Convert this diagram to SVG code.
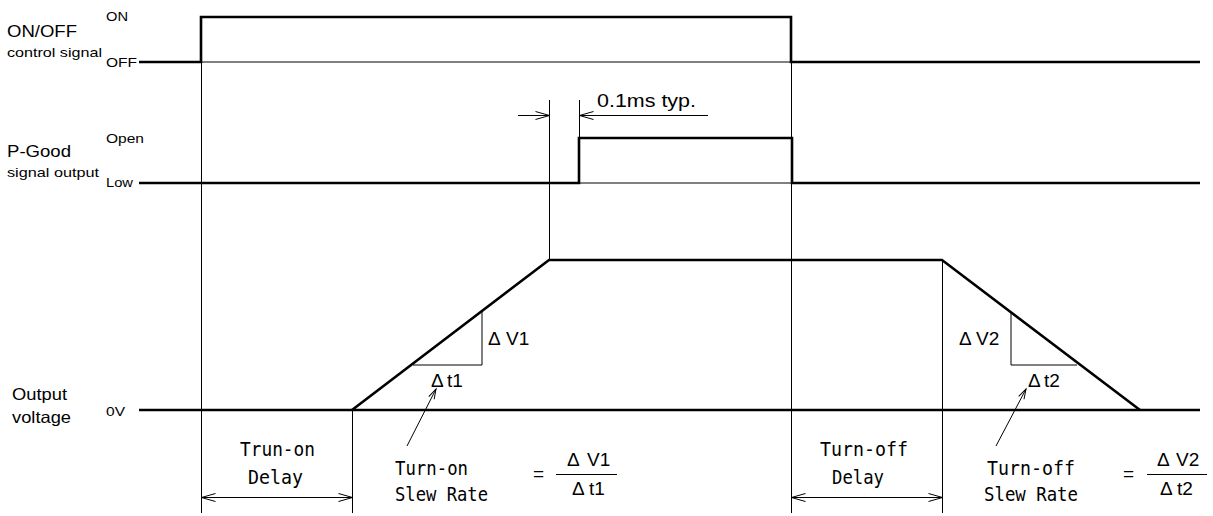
<svg xmlns="http://www.w3.org/2000/svg" width="1213" height="516" viewBox="0 0 1213 516">
<style>
.trace{fill:none;stroke:#000;stroke-width:2.6;stroke-linejoin:miter}
.thin{fill:none;stroke:#000;stroke-width:1}
.lbl{font-family:"Liberation Sans",Arial,sans-serif;fill:#000}
.mono{font-family:"DejaVu Sans Mono","Liberation Mono",monospace;fill:#000;font-size:19px}
.dl{font-family:"Liberation Sans",Arial,sans-serif;fill:#000;font-size:19px}
</style>
<defs>
<marker id="oa" viewBox="0 0 14 10" refX="14" refY="5" markerWidth="14" markerHeight="10" orient="auto-start-reverse" markerUnits="userSpaceOnUse" overflow="visible">
<path d="M0,1 L14,5 L0,9" fill="none" stroke="#000" stroke-width="1"/>
</marker>
<marker id="sa" viewBox="0 0 10 8" refX="10" refY="4" markerWidth="10" markerHeight="8" orient="auto" markerUnits="userSpaceOnUse" overflow="visible">
<path d="M0,1 L10,4 L0,7" fill="none" stroke="#000" stroke-width="1"/>
</marker>
</defs>
<rect width="1213" height="516" fill="#fff"/>

<g id="onoff-signal">
<text class="lbl" x="7" y="37" font-size="16.5" textLength="70" lengthAdjust="spacingAndGlyphs">ON/OFF</text>
<text class="lbl" x="7" y="57" font-size="13.5" textLength="95" lengthAdjust="spacingAndGlyphs">control signal</text>
<text class="lbl" x="106" y="21" font-size="13.5" textLength="22" lengthAdjust="spacingAndGlyphs">ON</text>
<text class="lbl" x="106" y="67" font-size="13.5" textLength="31" lengthAdjust="spacingAndGlyphs">OFF</text>
<polyline class="trace" points="139,62 201,62 201,17 791,17 791,62 1200,62"/>
<line class="thin" x1="201" y1="62" x2="791" y2="62"/>
</g>

<g id="pgood-signal">
<text class="lbl" x="7" y="157" font-size="16.5" textLength="64" lengthAdjust="spacingAndGlyphs">P-Good</text>
<text class="lbl" x="7" y="177" font-size="13.5" textLength="92" lengthAdjust="spacingAndGlyphs">signal output</text>
<text class="lbl" x="106" y="143" font-size="13.5" textLength="38" lengthAdjust="spacingAndGlyphs">Open</text>
<text class="lbl" x="106" y="187" font-size="13.5" textLength="27" lengthAdjust="spacingAndGlyphs">Low</text>
<polyline class="trace" points="139,183 579,183 579,138 792,138 792,183 1200,183"/>
<line class="thin" x1="579" y1="183" x2="792" y2="183"/>
</g>

<g id="output-voltage">
<text class="lbl" x="12" y="400" font-size="16.5" textLength="55" lengthAdjust="spacingAndGlyphs">Output</text>
<text class="lbl" x="12" y="423" font-size="16.5" textLength="59" lengthAdjust="spacingAndGlyphs">voltage</text>
<text class="lbl" x="106" y="416" font-size="13.5" textLength="19" lengthAdjust="spacingAndGlyphs">0V</text>
<line class="trace" x1="139" y1="410" x2="1200" y2="410"/>
<polyline class="trace" points="352,410 549,260 942,260 1140,410"/>
</g>

<g id="slope1">
<polyline class="thin" points="413,365 482,365 482,312"/>
<text class="dl" x="488" y="345">Δ<tspan x="506">V1</tspan></text>
<text class="dl" x="431" y="387">Δ<tspan x="447">t1</tspan></text>
</g>

<g id="slope2">
<polyline class="thin" points="1077,365 1011,365 1011,312"/>
<text class="dl" x="959" y="345">Δ<tspan x="976">V2</tspan></text>
<text class="dl" x="1028" y="387">Δ<tspan x="1044">t2</tspan></text>
</g>

<g id="pgood-delay">
<text class="lbl" x="597" y="107" font-size="19" textLength="99" lengthAdjust="spacingAndGlyphs">0.1ms typ.</text>
</g>

<g id="turn-on-delay">
<text class="mono" x="240" y="456" textLength="75" lengthAdjust="spacingAndGlyphs">Trun-on</text>
<text class="mono" x="248" y="484" textLength="55" lengthAdjust="spacingAndGlyphs">Delay</text>
</g>

<g id="turn-on-slew">
<text class="mono" x="395" y="475" textLength="73" lengthAdjust="spacingAndGlyphs">Turn-on</text>
<text class="mono" x="395" y="501" textLength="93" lengthAdjust="spacingAndGlyphs">Slew Rate</text>
<text class="dl" x="533" y="480" font-size="20">=</text>
<text class="dl" x="567" y="466">Δ<tspan x="587">V1</tspan></text>
<line class="thin" x1="556" y1="474.5" x2="617" y2="474.5"/>
<text class="dl" x="572" y="495">Δ<tspan x="589">t1</tspan></text>
</g>

<g id="turn-off-delay">
<text class="mono" x="820" y="456" textLength="88" lengthAdjust="spacingAndGlyphs">Turn-off</text>
<text class="mono" x="832" y="484" textLength="52" lengthAdjust="spacingAndGlyphs">Delay</text>
</g>

<g id="turn-off-slew">
<text class="mono" x="987" y="475" textLength="88" lengthAdjust="spacingAndGlyphs">Turn-off</text>
<text class="mono" x="984" y="501" textLength="94" lengthAdjust="spacingAndGlyphs">Slew Rate</text>
<text class="dl" x="1123" y="480" font-size="20">=</text>
<text class="dl" x="1157" y="466">Δ<tspan x="1176">V2</tspan></text>
<line class="thin" x1="1147" y1="474.5" x2="1207" y2="474.5"/>
<text class="dl" x="1160" y="495">Δ<tspan x="1177">t2</tspan></text>
</g>

<g id="connectors">
<line class="thin" x1="201.5" y1="62" x2="201.5" y2="513"/>
<line class="thin" x1="791.5" y1="17" x2="791.5" y2="513"/>
<line class="thin" x1="549.5" y1="100" x2="549.5" y2="260"/>
<line class="thin" x1="579.5" y1="100" x2="579.5" y2="138"/>
<line class="thin" x1="352.5" y1="410" x2="352.5" y2="513"/>
<line class="thin" x1="942.5" y1="260" x2="942.5" y2="513"/>
<line class="thin" x1="518" y1="115.5" x2="549.5" y2="115.5" marker-end="url(#oa)"/>
<line class="thin" x1="708" y1="115.5" x2="579.5" y2="115.5" marker-end="url(#oa)"/>
<line class="thin" x1="201.5" y1="497.5" x2="352.5" y2="497.5" marker-start="url(#oa)" marker-end="url(#oa)"/>
<line class="thin" x1="791.5" y1="497.5" x2="942.5" y2="497.5" marker-start="url(#oa)" marker-end="url(#oa)"/>
<line class="thin" x1="407" y1="446" x2="436" y2="389" marker-end="url(#sa)"/>
<line class="thin" x1="996" y1="446" x2="1026" y2="389" marker-end="url(#sa)"/>
</g>
</svg>
